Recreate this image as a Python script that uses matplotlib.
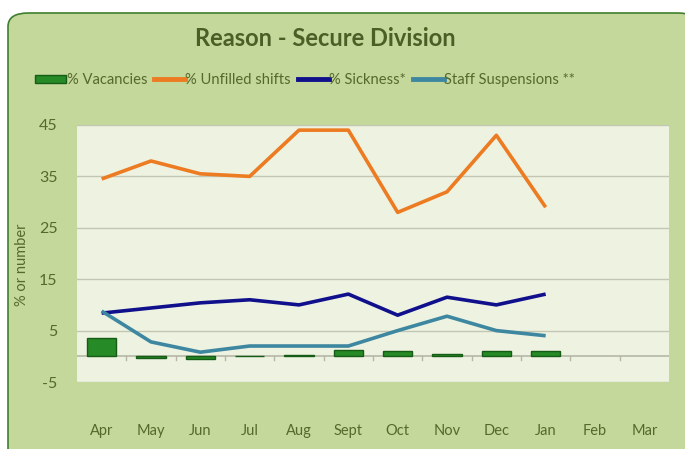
import matplotlib.pyplot as plt
from matplotlib.patches import FancyBboxPatch, Patch
from matplotlib.lines import Line2D
import numpy as np

# data
months = ["Apr", "May", "Jun", "Jul", "Aug", "Sept", "Oct", "Nov", "Dec", "Jan", "Feb", "Mar"]
vacancies = [3.5, -0.3, -0.5, 0.1, 0.3, 1.2, 1.1, 0.5, 1.1, 1.1]
unfilled = [34.5, 38.0, 35.5, 35.0, 44.0, 44.0, 28.0, 32.0, 43.0, 29.0]
sickness = [8.4, 9.4, 10.4, 11.0, 10.0, 12.1, 8.0, 11.5, 10.0, 12.1]
suspensions = [8.8, 2.8, 0.8, 2.0, 2.0, 2.0, 5.0, 7.8, 5.0, 4.0]
yticks = [-5, 5, 15, 25, 35, 45]

txt_col = "#55692c"
plt.rcParams['font.family'] = ['Lato', 'DejaVu Sans']
plt.rcParams['axes.unicode_minus'] = False

fig = plt.figure(figsize=(6.85, 4.49), dpi=100)
fig.patch.set_facecolor("white")

# rounded green panel behind everything
panel = FancyBboxPatch((8 / 685, -20 / 449), 690 / 685, (449 - 13 + 20) / 449,
                       boxstyle="round,pad=0,rounding_size=0.03",
                       transform=fig.transFigure, facecolor="#c4d89c",
                       edgecolor="#3f7f2f", linewidth=1.2, zorder=-10)
fig.patches.append(panel)

ax = fig.add_axes([77 / 685, 67 / 449, 592 / 685, 257 / 449])
ax.set_facecolor("#eef2e1")

x = np.arange(len(months))
n = len(unfilled)

ax.bar(x[:len(vacancies)], vacancies, width=0.6, color="#268a26",
       edgecolor="#165c16", linewidth=1, zorder=3)
ax.plot(x[:n], unfilled, color="#ec7b22", lw=2.6, zorder=4, solid_capstyle="butt")
ax.plot(x[:n], sickness, color="#10108c", lw=2.6, zorder=4, solid_capstyle="butt")
ax.plot(x[:n], suspensions, color="#3e87a0", lw=2.6, zorder=4, solid_capstyle="butt")

ax.set_xlim(-0.5, len(months) - 0.5)
ax.set_ylim(-5, 45)
ax.set_yticks(yticks)
ax.grid(axis="y", color="#c3c6b3", lw=1, zorder=0)
ax.axhline(0, color="#b5b8a6", lw=1.2, zorder=2)

# category tick marks on the zero line
for b in np.arange(0.5, len(months) - 0.5, 1.0):
    ax.plot([b, b], [0, -0.8], color="#b5b8a6", lw=1, zorder=2)

ax.set_xticks(x)
ax.set_xticklabels(months)
ax.tick_params(axis="x", length=0, pad=30, colors=txt_col, labelsize=10.5)
ax.tick_params(axis="y", length=0, pad=14, colors=txt_col, labelsize=11.5)
for s in ax.spines.values():
    s.set_visible(False)

fig.text(22 / 685, 1 - 265 / 449, "% or number", rotation=90, color=txt_col,
         fontsize=10.5, ha="center", va="center")

fig.text(325 / 685, 1 - 39 / 449, "Reason - Secure Division", fontsize=17,
         fontweight="bold", color="#4a5e26", ha="center", va="center")

handles = [Patch(facecolor="#268a26", edgecolor="#165c16"),
           Line2D([], [], color="#ec7b22", lw=3.5),
           Line2D([], [], color="#10108c", lw=3.5),
           Line2D([], [], color="#3e87a0", lw=3.5)]
labels = ["% Vacancies", "% Unfilled shifts", "% Sickness*", "Staff Suspensions **"]
fig.legend(handles, labels, loc="center left", bbox_to_anchor=(35 / 685, 1 - 80 / 449),
           ncol=4, frameon=False, fontsize=10.6, handlelength=2.1, handleheight=0.5,
           handletextpad=0.05, columnspacing=0.45, labelcolor=txt_col, borderaxespad=0,
           borderpad=0)

fig.savefig("out.png", dpi=100)
